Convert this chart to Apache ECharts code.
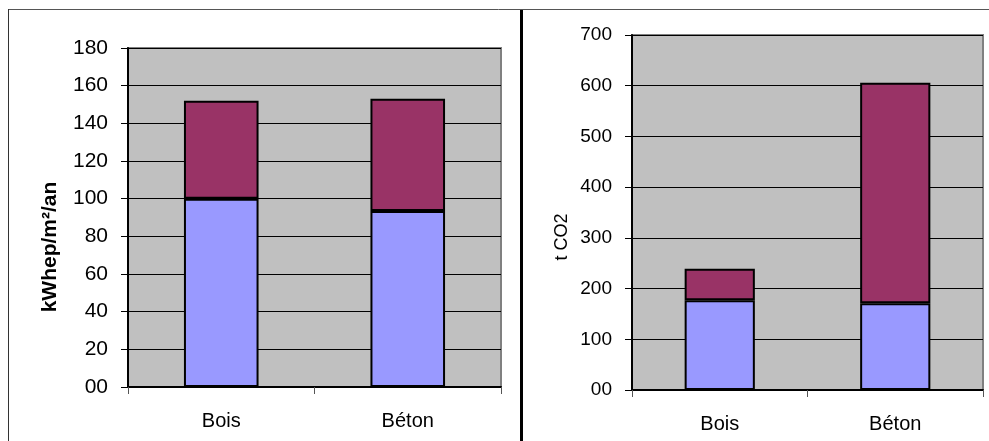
<!DOCTYPE html>
<html>
<head>
<meta charset="utf-8">
<script src="https://cdn.jsdelivr.net/npm/echarts@6/dist/echarts.min.js"></script>
<style>
  html, body { margin: 0; padding: 0; background: #fff; }
  #chart { width: 989px; height: 441px; }
</style>
</head>
<body>
<div id="chart"></div>
<script>
// Categories shared by both panels
const categories = ['Bois', 'Béton'];

// Left panel: primary energy (kWhep/m²/an), stacked segments
const energyLower = [100, 93.5];
const energyUpper = [52, 59.5];
const energyTicks = ['00', '20', '40', '60', '80', '100', '120', '140', '160', '180'];

// Right panel: emissions (t CO2), stacked segments
const co2Lower = [177, 171];
const co2Upper = [62, 435];
const co2Ticks = ['00', '100', '200', '300', '400', '500', '600', '700'];

const FONT = '"Liberation Sans", Arial, sans-serif';
const BLUE = '#9999FF';
const PLUM = '#993366';

function tickFormatter(ticks, step) {
  return v => ticks[Math.round(v / step)] ?? String(v);
}

function valueAxis(gridIndex, max, step, ticks, fontSize) {
  return {
    type: 'value', gridIndex, min: 0, max, interval: step,
    axisLine: { show: true, lineStyle: { color: '#000', width: 2 } },
    axisTick: { show: true, length: 7, lineStyle: { color: '#000', width: 1 } },
    splitLine: { show: true, lineStyle: { color: '#000', width: 1 } },
    axisLabel: {
      margin: 20, color: '#000', fontFamily: FONT, fontSize,
      formatter: tickFormatter(ticks, step)
    }
  };
}

function categoryAxis(gridIndex) {
  return {
    type: 'category', gridIndex, data: categories,
    axisLine: { show: true, lineStyle: { color: '#000', width: 2 } },
    axisTick: { show: true, length: 7, alignWithLabel: false, lineStyle: { color: '#555', width: 1 } },
    axisLabel: { margin: 24, color: '#000', fontFamily: FONT, fontSize: 20 }
  };
}

function barSeries(name, data, color, idx) {
  return {
    name, type: 'bar', data, stack: 'total' + idx,
    xAxisIndex: idx, yAxisIndex: idx, barWidth: '40%',
    itemStyle: { color, borderColor: '#000', borderWidth: 2 },
    emphasis: { disabled: true }
  };
}

const chart = echarts.init(document.getElementById('chart'), null, { renderer: 'canvas' });

chart.setOption({
  animation: false,
  backgroundColor: '#fff',
  grid: [
    { left: 128, right: 488, top: 48, bottom: 54, show: true,
      backgroundColor: '#C0C0C0', borderColor: '#808080', borderWidth: 2 },
    { left: 632, right: 6, top: 35, bottom: 51, show: true,
      backgroundColor: '#C0C0C0', borderColor: '#808080', borderWidth: 2 }
  ],
  xAxis: [categoryAxis(0), categoryAxis(1)],
  yAxis: [
    valueAxis(0, 180, 20, energyTicks, 21),
    valueAxis(1, 700, 100, co2Ticks, 19)
  ],
  series: [
    barSeries('Énergie 1', energyLower, BLUE, 0),
    barSeries('Énergie 2', energyUpper, PLUM, 0),
    barSeries('CO2 1', co2Lower, BLUE, 1),
    barSeries('CO2 2', co2Upper, PLUM, 1)
  ],
  graphic: [
    // outer frame and panel divider
    { type: 'line', shape: { x1: 8, y1: 9.5, x2: 989, y2: 9.5 }, style: { stroke: '#555', lineWidth: 1 } },
    { type: 'line', shape: { x1: 8.5, y1: 9, x2: 8.5, y2: 441 }, style: { stroke: '#333', lineWidth: 1 } },
    { type: 'line', shape: { x1: 521.5, y1: 10, x2: 521.5, y2: 441 }, style: { stroke: '#000', lineWidth: 3 } },
    // axis titles
    { type: 'text', x: 50, y: 247, rotation: Math.PI / 2,
      style: { text: 'kWhep/m²/an', font: 'bold 21px ' + FONT, fill: '#000',
               align: 'center', verticalAlign: 'middle' } },
    { type: 'text', x: 562, y: 237, rotation: Math.PI / 2,
      style: { text: 't CO2', font: '18px ' + FONT, fill: '#000',
               align: 'center', verticalAlign: 'middle' } }
  ]
});
</script>
</body>
</html>
